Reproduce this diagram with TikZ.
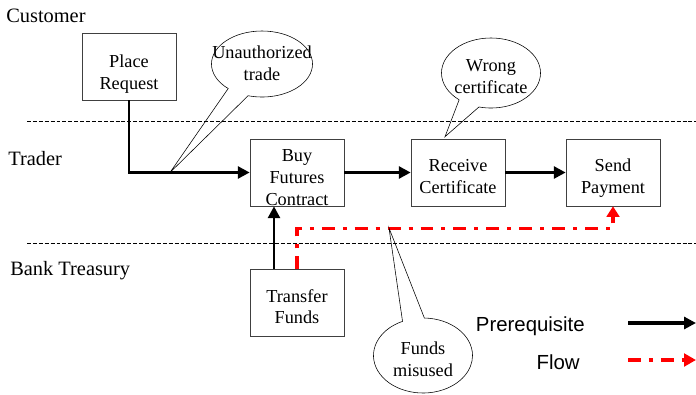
\documentclass[tikz,border=0pt]{standalone}
\usepackage{fontspec}
\setmainfont{Liberation Serif}
\setsansfont{Liberation Sans}
\usetikzlibrary{arrows.meta,shapes.callouts,calc}
\newcommand{\boxtext}[2][3.25pt]{\makebox[0pt]{\raisebox{-#1}[0pt][0pt]{\begin{tabular}{@{}c@{}}#2\end{tabular}}}}

\begin{document}
\begin{tikzpicture}
[x=0.025cm, y=-0.025cm,
task/.style={draw=black!75, minimum width=2.35cm, minimum height=1.675cm,
  inner sep=0pt, font=\fontsize{13}{15.6}\selectfont},
lane/.style={anchor=west, inner sep=0pt, font=\fontsize{14.5}{17}\selectfont},
lanesep/.style={line width=0.6pt, dash pattern=on 2.8pt off 1.4pt},
bubble/.style={ellipse callout, draw, inner sep=0pt, callout pointer arc=26,
  font=\fontsize{13}{15.6}\selectfont},
prereq/.style={line width=2.1pt, -{Triangle[length=8.5pt,width=8.5pt]}},
flow/.style={red, line width=2.3pt, dash pattern=on 9.2pt off 5.7pt on 2.8pt off 5.7pt,
  -{Triangle[length=7.5pt,width=9pt]}},
legendtxt/.style={anchor=east, inner sep=0pt, font=\sffamily\fontsize{14.5}{17}\selectfont}]
\useasboundingbox (0,0) rectangle (696,394);

\node[lane] (cust) at (6,16) {Customer};
\node[lane] (trad) at (8,159) {Trader};
\node[lane] (bank) at (10,271) {Bank Treasury};
\draw[lanesep] (27,121) -- (696,121);
\draw[lanesep] (27,243) -- (696,243);

\node[task] (pr) at (129,66.5) {\boxtext[8.5pt]{Place\\Request}};
\node[task] (buy) at (297,172.5) {\boxtext[7.5pt]{Buy\\Futures\\Contract}};
\node[task] (rc) at (458,172.5) {\boxtext[7pt]{Receive\\Certificate}};
\node[task] (sp) at (613,172.5) {\boxtext[7pt]{Send\\Payment}};
\node[task] (tf) at (297,303) {\boxtext[7pt]{Transfer\\Funds}};

\draw[prereq] (pr.south) |- (buy.west);
\draw[prereq] (buy) -- (rc);
\draw[prereq] (rc) -- (sp);
\draw[prereq] ($(tf.north)+(-23,0)$) -- ($(buy.south)+(-23,0)$);
\draw[flow] (tf.north) -- ++(0,-41) -| (sp.south);

\coordinate (ua) at (170,172.5);
\coordinate (wc) at ($(rc.north)+(-13,-2)$);
\coordinate (fm) at (389,228);
\node[bubble, minimum width=2.525cm, minimum height=1.65cm, callout absolute pointer={(ua)}]
  (unauth) at (262,64) {\boxtext[4pt]{Unauthorized\\trade}};
\node[bubble, minimum width=2.475cm, minimum height=1.75cm, callout absolute pointer={(wc)}]
  (wrong) at (491,73) {\boxtext[6.8pt]{Wrong\\certificate}};
\node[bubble, minimum width=2.475cm, minimum height=1.875cm, callout absolute pointer={(fm)}]
  (misused) at (423,355.5) {\boxtext[6.8pt]{Funds\\misused}};

\node[legendtxt] (lpre) at (585,326) {Prerequisite};
\node[legendtxt] (lflow) at (580,362) {Flow};
\coordinate (pa) at (628,323);
\coordinate (pb) at (696,323);
\coordinate (fa) at (628,360);
\coordinate (fb) at (696,360);
\draw[prereq, line width=2.3pt] (pa) -- (pb);
\draw[flow, -{Triangle[length=8.5pt,width=9pt]}] (fa) -- (fb);
\end{tikzpicture}
\end{document}
